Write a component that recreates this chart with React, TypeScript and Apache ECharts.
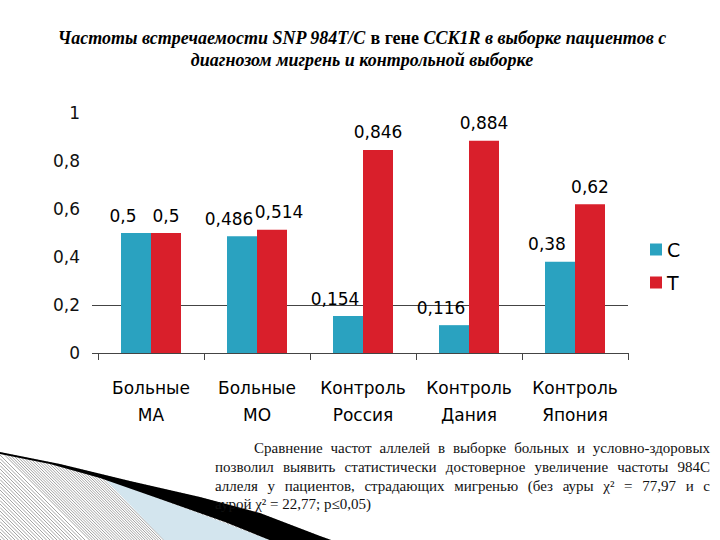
import React, { useEffect, useRef } from "react";
import * as echarts from "echarts";

const categories = ["Больные\nМА", "Больные\nМО", "Контроль\nРоссия", "Контроль\nДания", "Контроль\nЯпония"];
const seriesNames = ["C", "T"];
const valuesC = [0.5, 0.486, 0.154, 0.116, 0.38];
const valuesT = [0.5, 0.514, 0.846, 0.884, 0.62];
const colorC = "#2aa2c0";
const colorT = "#d91f2b";

const titleLine1 = [
  { t: "Частоты встречаемости SNP 984T/C ", s: "i" },
  { t: "в гене ", s: "b" },
  { t: "CCK1R в выборке пациентов с", s: "i" },
];
const titleLine2 = "диагнозом мигрень и контрольной выборке";

const paragraphLines = [
  "Сравнение частот аллелей в выборке больных и условно-здоровых",
  "позволил выявить статистически достоверное увеличение частоты 984С",
  "аллеля у пациентов, страдающих мигренью (без ауры χ² = 77,97 и с",
  "аурой χ² = 22,77; p≤0,05)",
];

const fmt = (v: number) => String(v).replace(".", ",");

function buildParagraph(): any[] {
  const font = "15px 'Liberation Serif'";
  const canvas = document.createElement("canvas");
  const ctx = canvas.getContext("2d")!;
  ctx.font = font;
  const right = 710;
  const els: any[] = [];
  const ys = [448, 467, 486, 504];
  paragraphLines.forEach((line, i) => {
    const left = i === 0 ? 254 : 215;
    const words = line.split(" ");
    const widths = words.map((w) => ctx.measureText(w).width);
    const total = widths.reduce((a, b) => a + b, 0);
    const last = i === paragraphLines.length - 1;
    const gap = last ? ctx.measureText(" ").width : (right - left - total) / (words.length - 1);
    let x = left;
    words.forEach((w, k) => {
      els.push({
        type: "text",
        x,
        y: ys[i],
        z: 10,
        silent: true,
        style: {
          text: w,
          fontFamily: "Liberation Serif",
          fontSize: 15,
          fill: "#111",
          verticalAlign: "middle",
          align: "left",
        },
      });
      x += widths[k] + gap;
    });
  });
  return els;
}

function buildDecoration(): any[] {
  const els: any[] = [];
  const topPts: [number, number][] = [
    [0, 452], [60, 464], [130, 481], [200, 497], [260, 513], [320, 536], [334, 541],
  ];
  const yTop = (x: number) => {
    for (let i = 0; i < topPts.length - 1; i++) {
      const [x0, y0] = topPts[i];
      const [x1, y1] = topPts[i + 1];
      if (x >= x0 && x <= x1) return y0 + ((y1 - y0) * (x - x0)) / (x1 - x0);
    }
    return 541;
  };
  for (let y = 455; y < 541; y += 3.5) {
    els.push({ type: "line", silent: true, shape: { x1: 0, y1: y, x2: 541 - y, y2: 541 }, style: { stroke: "#9a9a9a", lineWidth: 0.9 } });
  }
  for (let x = 2; x < 334; x += 3.5) {
    const yt = yTop(x);
    els.push({ type: "line", silent: true, shape: { x1: x, y1: yt, x2: x + (541 - yt), y2: 541 }, style: { stroke: "#9a9a9a", lineWidth: 0.9 } });
  }
  els.push({
    type: "polygon",
    silent: true,
    shape: { points: [[105, 479], [160, 499], [222, 522], [272, 541], [165, 541]] },
    style: { fill: "#d3e5ee" },
  });
  els.push({
    type: "polygon",
    silent: true,
    shape: {
      points: [
        [0, 452], [60, 464], [130, 481], [200, 497], [260, 513], [320, 536], [334, 541],
        [272, 541], [225, 522], [160, 499], [100, 478], [50, 464], [0, 454],
      ],
    },
    style: { fill: "#000" },
  });
  return els;
}

function buildTitle(): any[] {
  const fontSize = 18;
  const canvas = document.createElement("canvas");
  const ctx = canvas.getContext("2d")!;
  const fontOf = (s: string) => (s === "i" ? "italic bold " : "bold ") + fontSize + "px 'Liberation Serif'";
  const widths = titleLine1.map((p) => {
    ctx.font = fontOf(p.s);
    return ctx.measureText(p.t).width;
  });
  const total = widths.reduce((a, b) => a + b, 0);
  let x = 362 - total / 2;
  const els: any[] = [];
  titleLine1.forEach((p, k) => {
    els.push({
      type: "text",
      x,
      y: 38,
      silent: true,
      style: {
        text: p.t,
        fontFamily: "Liberation Serif",
        fontWeight: "bold",
        fontStyle: p.s === "i" ? "italic" : "normal",
        fontSize,
        fill: "#000",
        verticalAlign: "middle",
        align: "left",
      },
    });
    x += widths[k];
  });
  els.push({
    type: "text",
    x: 362,
    y: 60,
    silent: true,
    style: {
      text: titleLine2,
      fontFamily: "Liberation Serif",
      fontWeight: "bold",
      fontStyle: "italic",
      fontSize,
      fill: "#000",
      verticalAlign: "middle",
      align: "center",
    },
  });
  return els;
}

export default function App() {
  const ref = useRef<HTMLDivElement>(null);
  useEffect(() => {
    const chart = echarts.init(ref.current!, null, { renderer: "svg" });
    const labelBase = {
      show: true,
      position: "top" as const,
      distance: 9,
      fontFamily: "DejaVu Sans",
      fontSize: 17,
      color: "#000",
      formatter: (p: any) => fmt(p.value),
    };
    chart.setOption({
      animation: false,
      backgroundColor: "#fff",
      legend: {
        orient: "vertical",
        left: 645,
        top: 235,
        itemWidth: 12,
        itemHeight: 12,
        itemGap: 14,
        icon: "rect",
        data: seriesNames,
        textStyle: { fontFamily: "DejaVu Sans", fontSize: 19, color: "#000" },
      },
      grid: { left: 98, right: 92, top: 113, bottom: 187 },
      xAxis: {
        type: "category",
        data: categories,
        axisLine: { show: true, lineStyle: { color: "#444", width: 1 } },
        axisTick: { show: true, length: 7, lineStyle: { color: "#444" } },
        axisLabel: {
          interval: 0,
          margin: 21,
          fontFamily: "DejaVu Sans",
          fontSize: 17,
          lineHeight: 27,
          color: "#000",
        },
      },
      yAxis: {
        type: "value",
        min: 0,
        max: 1,
        interval: 0.2,
        axisLine: { show: false },
        axisTick: { show: true, length: 6, customValues: [0, 0.2], lineStyle: { color: "#444" } },
        axisLabel: {
          margin: 18,
          fontFamily: "DejaVu Sans",
          fontSize: 17,
          color: "#111",
          formatter: (v: number) => fmt(Math.round(v * 10) / 10),
        },
        splitLine: {
          show: true,
          lineStyle: { color: ["#444", "#444", "rgba(0,0,0,0)", "rgba(0,0,0,0)", "rgba(0,0,0,0)", "rgba(0,0,0,0)"], width: 1 },
        },
      },
      series: [
        {
          name: seriesNames[0],
          type: "bar",
          data: valuesC,
          barWidth: 30,
          barGap: "0%",
          itemStyle: { color: colorC },
          label: { ...labelBase, offset: [-13, 0] },
        },
        {
          name: seriesNames[1],
          type: "bar",
          data: valuesT.map((v, i) => (i === 1 ? { value: v, label: { offset: [7, 0] } } : v)),
          barWidth: 30,
          barGap: "0%",
          itemStyle: { color: colorT },
          label: labelBase,
        },
      ],
      graphic: [...buildDecoration(), ...buildTitle(), ...buildParagraph()],
    });
    return () => chart.dispose();
  }, []);
  return <div ref={ref} style={{ width: 720, height: 540, position: "absolute", left: 0, top: 0 }} />;
}
